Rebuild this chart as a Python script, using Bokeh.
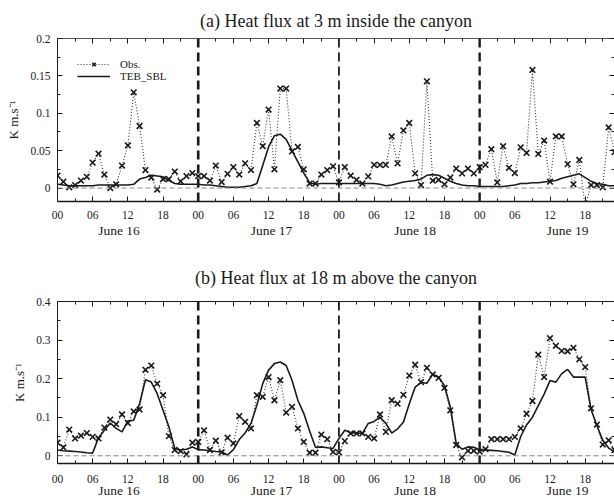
from bokeh.plotting import figure
from bokeh.models import (LinearAxis, FixedTicker, CustomJSTickFormatter, Span,
                          Legend, LegendItem, Range1d, ColumnDataSource)
from bokeh.layouts import column
from bokeh.embed import file_html
from bokeh.resources import INLINE

# ---------------- data ----------------
hours = list(range(96))
day_starts = [24, 48, 72]
date_labels = ["June 16", "June 17", "June 18", "June 19"]
date_label_hours = [10.5, 36.5, 61, 87]
hour_ticks = list(range(0, 96, 6))
hour_minor = list(range(3, 96, 6))

obs_a = [0.0166, 0.0085, 0.001, 0.004, 0.010, 0.015, 0.034, 0.046, 0.018, 0.000,
         0.005, 0.030, 0.057, 0.128, 0.083, 0.024, 0.014, -0.002, 0.012, 0.012,
         0.022, 0.009, 0.016, 0.020, 0.016, 0.016, 0.010, 0.030, 0.008, 0.019,
         0.028, 0.018, 0.033, 0.024, 0.087, 0.056, 0.105, 0.025, 0.133, 0.133,
         0.049, 0.055, 0.025, 0.006, 0.006, 0.018, 0.024, 0.029, 0.0075, 0.028,
         0.0165, 0.011, 0.006, 0.0156, 0.031, 0.031, 0.031, 0.069, 0.033, 0.077,
         0.087, 0.0196, 0.004, 0.1427, 0.0098, 0.011, 0.005, 0.014, 0.026, 0.0196,
         0.026, 0.0196, 0.028, 0.031, 0.052, 0.0075, 0.056, 0.027, 0.020, 0.0545,
         0.047, 0.158, 0.0456, 0.0635, 0.0085, 0.069, 0.069, 0.032, 0.005, 0.0376,
         -0.025, 0.004, 0.004, 0.001, 0.081, 0.048]

model_a = [0.005, 0.004, 0.003, 0.003, 0.003, 0.003, 0.003, 0.004, 0.004, 0.004,
           0.004, 0.004, 0.004, 0.005, 0.012, 0.014, 0.017, 0.016, 0.015, 0.010,
           0.006, 0.005, 0.005, 0.005, 0.005, 0.004, 0.004, 0.003, 0.002, 0.001,
           0.001, 0.001, 0.002, 0.003, 0.006, 0.030, 0.055, 0.070, 0.072, 0.065,
           0.050, 0.035, 0.020, 0.007, 0.005, 0.006, 0.006, 0.006, 0.006, 0.006,
           0.006, 0.006, 0.006, 0.006, 0.006, 0.005, 0.003, 0.004, 0.006, 0.008,
           0.009, 0.010, 0.012, 0.017, 0.018, 0.017, 0.013, 0.009, 0.006, 0.004,
           0.003, 0.003, 0.002, 0.002, 0.002, 0.002, 0.002, 0.003, 0.004, 0.006,
           0.006, 0.007, 0.007, 0.008, 0.009, 0.010, 0.013, 0.015, 0.017, 0.019,
           0.014, 0.009, 0.006, 0.005, 0.003, 0.003]

obs_b = [0.034, 0.0216, 0.068, 0.045, 0.052, 0.059, 0.049, 0.045, 0.073, 0.094,
         0.082, 0.107, 0.085, 0.115, 0.120, 0.223, 0.234, 0.187, 0.157, 0.051,
         0.015, 0.012, 0.004, 0.034, 0.036, 0.066, 0.015, 0.039, 0.009, 0.047,
         0.032, 0.103, 0.088, 0.071, 0.157, 0.153, 0.204, 0.144, 0.196, 0.112,
         0.127, 0.071, 0.036, 0.008, 0.008, 0.055, 0.043, 0.010, 0.009, 0.038,
         0.058, 0.058, 0.058, 0.049, 0.045, 0.107, 0.062, 0.144, 0.135, 0.158,
         0.208, 0.236, 0.191, 0.228, 0.211, 0.202, 0.176, 0.118, 0.028, -0.004,
         0.013, 0.013, 0.011, 0.017, 0.043, 0.043, 0.043, 0.043, 0.049, 0.071,
         0.109, 0.142, 0.262, 0.204, 0.305, 0.285, 0.272, 0.271, 0.280, 0.250,
         0.230, 0.123, 0.081, 0.029, 0.040, 0.015]

model_b = [0.015, 0.013, 0.012, 0.011, 0.010, 0.008, 0.007, 0.047, 0.066, 0.085,
           0.071, 0.062, 0.090, 0.092, 0.135, 0.197, 0.191, 0.161, 0.118, 0.075,
           0.019, 0.015, 0.017, 0.023, 0.016, 0.015, 0.013, 0.011, 0.010, 0.002,
           0.016, 0.042, 0.059, 0.084, 0.131, 0.187, 0.222, 0.239, 0.243, 0.234,
           0.196, 0.144, 0.110, 0.064, 0.022, 0.023, 0.021, 0.019, 0.045, 0.066,
           0.060, 0.059, 0.058, 0.084, 0.089, 0.100, 0.084, 0.059, 0.070, 0.087,
           0.135, 0.178, 0.190, 0.188, 0.211, 0.204, 0.182, 0.126, 0.032, 0.017,
           0.023, 0.022, 0.015, 0.015, 0.014, 0.013, 0.011, 0.009, 0.002, 0.050,
           0.080, 0.100, 0.130, 0.160, 0.195, 0.191, 0.213, 0.224, 0.204, 0.204,
           0.204, 0.120, 0.078, 0.040, 0.020, 0.010]

ticks_a = [0, 0.05, 0.1, 0.15, 0.2]
minor_a = [0.025, 0.075, 0.125, 0.175]
ticks_b = [0, 0.1, 0.2, 0.3, 0.4]
minor_b = [0.05, 0.15, 0.25, 0.35]

title_a = "(a) Heat flux at 3 m inside the canyon"
title_b = "(b) Heat flux at 18 m above the canyon"
y_label = "K m.s\u207b\u00b9"

FONT = "Liberation Serif"
INK = "#1a1a1a"


def panel(title, obs, model, y_start, y_end, yt, ym, top_border, bottom_border,
          title_standoff, tick_standoff, date_standoff, legend):
    p = figure(width=614, height=250, output_backend="svg", toolbar_location=None,
               x_range=Range1d(0, 95), y_range=Range1d(y_start, y_end),
               x_axis_type=None, y_axis_type=None,
               min_border_left=57, min_border_right=0,
               min_border_top=top_border, min_border_bottom=bottom_border,
               outline_line_color=None, background_fill_color="white",
               border_fill_color="white")
    p.title.text = title
    p.title.align = "center"
    p.title.text_font = FONT
    p.title.text_font_size = "18px"
    p.title.text_font_style = "normal"
    p.title.text_color = INK
    p.title.standoff = title_standoff

    xt = FixedTicker(ticks=hour_ticks, minor_ticks=hour_minor)
    hour_fmt = CustomJSTickFormatter(
        code="const h = Math.round(tick) % 24; return (h < 10 ? '0' : '') + h;")
    blank_fmt = CustomJSTickFormatter(code="return '';")
    yticker = FixedTicker(ticks=yt, minor_ticks=ym)
    yfmt = CustomJSTickFormatter(code="return String(parseFloat(tick.toFixed(3)));")

    common = dict(major_tick_in=5, major_tick_out=0, minor_tick_in=3, minor_tick_out=0,
                  axis_line_color=INK, major_tick_line_color=INK,
                  minor_tick_line_color=INK)

    bottom = LinearAxis(ticker=xt, formatter=hour_fmt, major_label_standoff=tick_standoff,
                        major_label_text_font=FONT, major_label_text_font_size="11.5px",
                        major_label_text_color=INK, axis_line_width=1.5, **common)
    p.add_layout(bottom, "below")

    dates = LinearAxis(ticker=FixedTicker(ticks=date_label_hours, minor_ticks=[]),
                       formatter=CustomJSTickFormatter(args=dict(labels=date_labels),
                                                       code="return labels[index];"),
                       axis_line_color=None, major_tick_line_color=None,
                       minor_tick_line_color=None, major_label_standoff=date_standoff,
                       major_tick_in=0, major_tick_out=0,
                       major_label_text_font=FONT, major_label_text_font_size="13.5px",
                       major_label_text_color=INK)
    p.add_layout(dates, "below")

    top = LinearAxis(ticker=xt, formatter=blank_fmt, major_label_standoff=0,
                     major_label_text_font_size="1px", **common)
    top.axis_line_color = "#555555" if legend else INK
    p.add_layout(top, "above")

    left = LinearAxis(ticker=yticker, formatter=yfmt, major_label_standoff=7,
                      major_label_text_font=FONT, major_label_text_font_size="11.5px",
                      major_label_text_color=INK,
                      axis_label=y_label, axis_label_text_font=FONT,
                      axis_label_text_font_size="13px", axis_label_text_font_style="normal",
                      axis_label_text_color=INK, axis_label_standoff=6, **common)
    p.add_layout(left, "left")

    right = LinearAxis(ticker=yticker, formatter=blank_fmt, major_label_standoff=0,
                       major_label_text_font_size="1px", **common)
    right.axis_line_color = None
    p.add_layout(right, "right")

    src = ColumnDataSource(dict(h=hours, obs=obs, model=model))

    p.add_layout(Span(location=0, dimension="width", line_color="#888888",
                      line_dash="5 3", line_width=1))
    for d, w in zip(day_starts, [2.6, 1.8, 2.4]):
        p.add_layout(Span(location=d, dimension="height", line_color=INK,
                          line_dash="9 5", line_width=w))

    obs_line = p.line("h", "obs", source=src, line_color="#333333", line_dash="1 2",
                      line_width=1.1)
    obs_pts = p.scatter("h", "obs", source=src, marker="x", size=8, line_color=INK,
                        line_width=1.6)
    mod_line = p.line("h", "model", source=src, line_color=INK, line_width=1.6)

    if legend:
        lg = Legend(items=[LegendItem(label="Obs.", renderers=[obs_line, obs_pts]),
                           LegendItem(label="TEB_SBL", renderers=[mod_line])],
                    location="top_left", margin=20, padding=10, spacing=0,
                    glyph_width=33, glyph_height=12, label_height=12,
                    label_standoff=10, label_text_font=FONT,
                    label_text_font_size="11px", label_text_color=INK,
                    border_line_color=None, background_fill_alpha=0)
        p.add_layout(lg)
    return p


pa = panel(title_a, obs_a, model_a, -0.018, 0.2, ticks_a, minor_a, 38, 49,
           16, 9, 1, True)
pb = panel(title_b, obs_b, model_b, -0.02, 0.4, ticks_b, minor_b, 51, 37,
           28, 11, -3, False)

layout = column(pa, pb, spacing=0)
open("out.html", "w").write(file_html(layout, INLINE))
